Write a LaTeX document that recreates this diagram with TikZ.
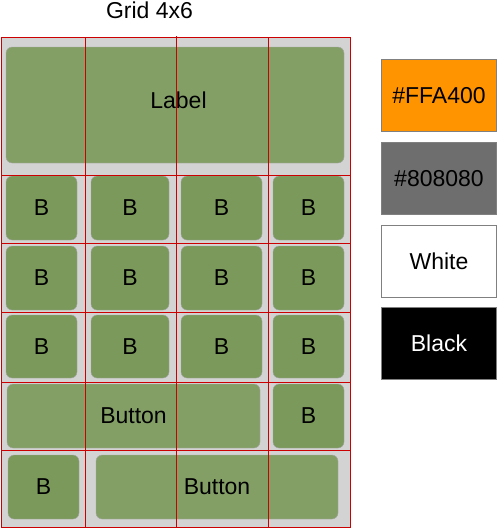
\documentclass[tikz,border=0pt]{standalone}
\usepackage{fontspec}
\setmainfont{Liberation Sans}
\usetikzlibrary{positioning}
\tikzset{x=1pt, y=-1pt}
\definecolor{cellgreen}{HTML}{7B995A}
\definecolor{widegreen}{HTML}{849F66}
\definecolor{gridbg}{HTML}{D3D3D3}
\definecolor{gridred}{HTML}{CC0000}
\definecolor{swatchorange}{HTML}{FF9400}
\definecolor{swatchgray}{HTML}{6E6E6E}

\begin{document}
\begin{tikzpicture}
% Style
[
    font=\fontsize{23}{27}\selectfont,
    cell/.style={draw=gray!70, fill=cellgreen, rounded corners=6pt, inner sep=0pt, outer sep=0pt},
    wide cell/.style={cell, fill=widegreen},
    swatch/.style={draw=gray, line width=0.8pt, inner sep=0pt, minimum width=115pt, minimum height=72pt},
    grid line/.style={gridred, line width=0.9pt}
]

%=================================== Start ===================================
{
    \useasboundingbox (0, 0) rectangle (497, 528);

    % Define: Title and background
    \node (title) at (149.5, 10) {Grid 4x6};
    \fill[gridbg] (1, 37) rectangle (350, 527);

    % Draw: Label
    \node[wide cell, minimum width=338pt, minimum height=116pt] (label) at (175, 105) {};
    \node (labeltext) at (178.5, 100) {Label};

    % Draw: B cells (rows 1..3)
    \foreach \r/\cy/\h in {1/208/64, 2/278/64, 3/346.5/63} {
        \foreach \c/\cx/\w in {1/41.5/71, 2/130/78, 3/221.5/81, 4/308.5/71} {
            \node[cell, minimum width=\w pt, minimum height=\h pt] (b\r\c) at (\cx, \cy) {B};
        }
    }

    % Draw: row 4
    \node[wide cell, minimum width=253pt, minimum height=64pt] (button4) at (133.5, 416) {Button};
    \node[cell, minimum width=71pt, minimum height=64pt] (b44) at (308.5, 416) {B};

    % Draw: row 5
    \node[cell, minimum width=71pt, minimum height=64pt] (b51) at (43.5, 487) {B};
    \node[wide cell, minimum width=242pt, minimum height=64pt] (button5) at (217, 487) {Button};

    % Draw: Grid lines
    \draw[grid line] (1, 37) rectangle (350, 527);
    \foreach \x in {85.5, 176.5, 268.5} {
        \draw[grid line] (\x, 37) -- (\x, 527);
    }
    \draw[grid line] (176.5, 36) -- (176.5, 37);
    \foreach \y in {175, 243, 312.5, 382, 450.5} {
        \draw[grid line] (1, \y) -- (350, \y);
    }

    % Draw: Colour swatches
    \node[swatch, fill=swatchorange] (orange) at (439, 95.3) {\#FFA400};
    \node[swatch, fill=swatchgray, below=10pt of orange] (gray) {\#808080};
    \node[swatch, fill=white, below=10pt of gray] (white) {White};
    \node[swatch, fill=black, text=white, below=10pt of white] (black) {Black};
}
%==================================== END ====================================

\end{tikzpicture}
\end{document}
